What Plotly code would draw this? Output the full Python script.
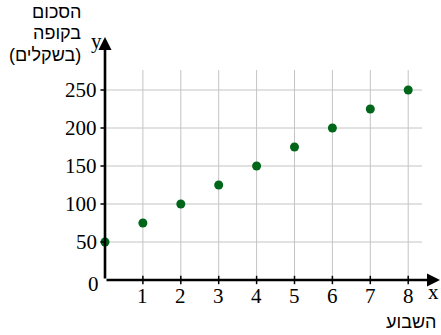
import plotly.graph_objects as go

weeks = [0, 1, 2, 3, 4, 5, 6, 7, 8]
amounts = [50, 75, 100, 125, 150, 175, 200, 225, 250]
x_ticks = [1, 2, 3, 4, 5, 6, 7, 8]
y_ticks = [50, 100, 150, 200, 250]
x_tick_labels = ["1", "2", "3", "4", "5", "6", "7", "8"]
y_tick_labels = ["50", "100", "150", "200", "250"]
y_title_lines = ["הסכום", "בקופה", "(בשקלים)"]
x_title = "השבוע"

W, H = 441, 335
L = 105
px_x = 37.9
px_y = 38 / 50.0

def xd(px):
    return (px - L) / px_x

def yd(py):
    return (280 - py) / px_y

serif = "Liberation Serif"
sans = "Liberation Sans"

fig = go.Figure()
fig.add_trace(go.Scatter(x=weeks, y=amounts, mode="markers",
                         marker=dict(color="#00661a", size=9),
                         cliponaxis=False, hoverinfo="skip"))

shapes = []
grid_top = yd(70)
grid_right = xd(422)
for xv in x_ticks:
    shapes.append(dict(type="line", xref="x", yref="y", x0=xv, x1=xv, y0=0, y1=grid_top,
                       line=dict(color="#c4c4c4", width=1), layer="below"))
    shapes.append(dict(type="line", xref="x", yref="y", x0=xv, x1=xv, y0=-5.5, y1=5.5,
                       line=dict(color="black", width=1.5)))
for yv in y_ticks:
    shapes.append(dict(type="line", xref="x", yref="y", x0=0, x1=grid_right, y0=yv, y1=yv,
                       line=dict(color="#c4c4c4", width=1), layer="below"))
    shapes.append(dict(type="line", xref="x", yref="y", x0=-0.12, x1=0.0, y0=yv, y1=yv,
                       line=dict(color="black", width=1.5)))

ann = []
ann.append(dict(x=xd(440), y=0, ax=0, ay=0, xref="x", yref="y", axref="x", ayref="y",
                text="", showarrow=True, arrowhead=2, arrowsize=1, arrowwidth=2.6, arrowcolor="black"))
ann.append(dict(x=0, y=yd(37), ax=0, ay=0, xref="x", yref="y", axref="x", ayref="y",
                text="", showarrow=True, arrowhead=2, arrowsize=1, arrowwidth=2.6, arrowcolor="black"))

for xv, lab in zip(x_ticks, x_tick_labels):
    ann.append(dict(x=xv, y=yd(296), xref="x", yref="y", text=lab, showarrow=False,
                    font=dict(family=serif, size=21, color="black"), xanchor="center", yanchor="middle"))
for yv, lab in zip(y_ticks, y_tick_labels):
    ann.append(dict(x=xd(99), y=yv, xref="x", yref="y", text=lab, showarrow=False,
                    font=dict(family=serif, size=21, color="black"), xanchor="right", yanchor="middle"))
ann.append(dict(x=xd(93), y=yd(284), xref="x", yref="y", text="0", showarrow=False,
                font=dict(family=serif, size=21, color="black"), xanchor="center", yanchor="middle"))
ann.append(dict(x=xd(433), y=yd(292), xref="x", yref="y", text="x", showarrow=False,
                font=dict(family=serif, size=21, color="black"), xanchor="center", yanchor="middle"))
ann.append(dict(x=xd(96), y=yd(41), xref="x", yref="y", text="y", showarrow=False,
                font=dict(family=serif, size=21, color="black"), xanchor="center", yanchor="middle"))
for line, py in zip(y_title_lines, [12, 33, 55]):
    ann.append(dict(x=xd(83), y=yd(py), xref="x", yref="y", text=line,
                    showarrow=False, font=dict(family=sans, size=18, color="black"),
                    xanchor="right", yanchor="middle"))
ann.append(dict(x=xd(411), y=yd(322), xref="x", yref="y", text=x_title,
                showarrow=False, font=dict(family=sans, size=18, color="black"),
                xanchor="center", yanchor="middle"))

fig.update_layout(
    width=W, height=H,
    margin=dict(l=0, r=0, t=0, b=0),
    paper_bgcolor="white", plot_bgcolor="white",
    showlegend=False,
    xaxis=dict(range=[xd(0), xd(W)], visible=False, fixedrange=True),
    yaxis=dict(range=[yd(H), yd(0)], visible=False, fixedrange=True),
    shapes=shapes, annotations=ann,
)
fig.write_html("out.html", config={"displayModeBar": False},
               post_script="document.body.style.margin='0';")
